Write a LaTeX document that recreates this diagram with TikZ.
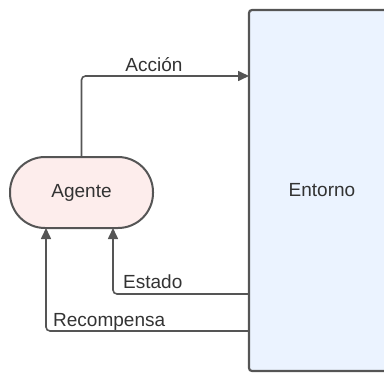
\documentclass[tikz,border=0pt]{standalone}
\usepackage{fontspec}
\setmainfont{Liberation Sans}
\usetikzlibrary{arrows.meta}
\definecolor{edge}{HTML}{555555}
\definecolor{txt}{HTML}{333333}
\definecolor{pinkfill}{HTML}{FDEDEC}
\definecolor{bluefill}{HTML}{EBF3FF}
\tikzset{
  lbl/.style={text=txt, font=\fontsize{19}{21}\selectfont, inner sep=0pt},
  conn/.style={draw=edge, line width=1.6pt, rounded corners=4pt},
  arr/.style={conn, -{Triangle[length=11pt,width=10pt]}},
  agentbox/.style={draw=edge, line width=2pt, fill=pinkfill, rounded corners=35pt,
    minimum width=143pt, minimum height=71pt, inner sep=0pt, lbl},
  envbox/.style={draw=edge, line width=2.2pt, fill=bluefill, rounded corners=3pt}
}
\begin{document}
\begin{tikzpicture}[x=1pt,y=-1pt]
\useasboundingbox (0,0) rectangle (384,373);
\clip (0,0) rectangle (384,373);
\draw[envbox] (249,10) rectangle (420,371);
\coordinate (envA) at (249,76);
\coordinate (envE) at (249,294);
\coordinate (envR) at (249,331);
\node[lbl] (entorno) at (322,190) {Entorno};
\node[agentbox] (agente) at (81.5,192.5) {Agente};
\coordinate (agE) at (113,228);
\coordinate (agR) at (46,228);
\draw[arr] (agente.north) |- (envA);
\draw[arr] (envE) -| (agE);
\draw[arr] (envR) -| (agR);
\node[lbl] (accion) at (154,65) {Acción};
\node[lbl, anchor=west] (estado) at (123,282) {Estado};
\node[lbl, anchor=west] (recomp) at (53,322) {Recompensa};
\end{tikzpicture}
\end{document}
